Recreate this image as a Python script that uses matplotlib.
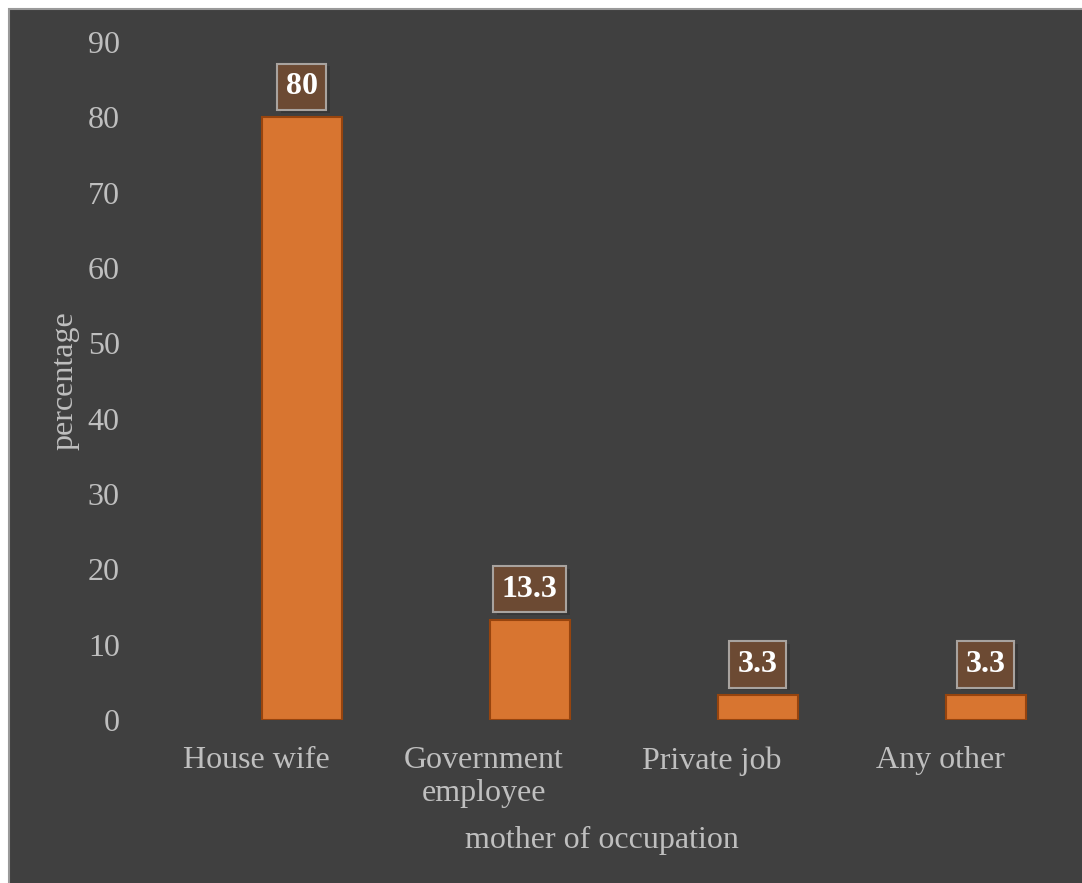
import matplotlib.pyplot as plt
import matplotlib.patheffects as pe
from matplotlib.patches import Rectangle

# Occupazione della madre - percentuali per categoria
categories = ['House wife', 'Government\nemployee', 'Private job', 'Any other']
percentages = [80, 13.3, 3.3, 3.3]
value_labels = ['80', '13.3', '3.3', '3.3']
y_ticks = [0, 10, 20, 30, 40, 50, 60, 70, 80, 90]

BG = '#404040'
TXT = '#BFBFBF'
BAR = '#D87530'
BAR_EDGE = '#97440E'
BOX = '#6C4A33'
BOX_EDGE = '#A8A39F'

plt.rcParams['font.family'] = ['Liberation Serif', 'DejaVu Serif']

W, H = 1082, 883
fig = plt.figure(figsize=(W / 100, H / 100), dpi=100, facecolor='white')

# sfondo scuro con bordo grigio
frame = Rectangle((9 / W, -0.01), 1.0, 1 - 9 / H + 0.01, transform=fig.transFigure,
                  facecolor=BG, edgecolor='#9A9A9A', linewidth=1.5, zorder=-10)
fig.patches.append(frame)

left, right = 142, 1054
ax = fig.add_axes([left / W, (H - 720) / H, (right - left) / W, (720 - 42) / H])
ax.set_facecolor('none')

x = list(range(len(categories)))
bar_x = [xi + 0.2 for xi in x]  # barre spostate a destra nella categoria
ax.bar(bar_x, percentages, width=0.35, color=BAR, edgecolor=BAR_EDGE, linewidth=1.5, zorder=2)

# etichette dei valori sopra le barre
shadow = [pe.SimplePatchShadow(offset=(3, -2), shadow_rgbFace='black', alpha=0.15), pe.Normal()]
for bx, val, lab in zip(bar_x, percentages, value_labels):
    ann = ax.annotate(lab, (bx, val), xytext=(0, 22), textcoords='offset points',
                      ha='center', va='center', color='white', fontsize=23, fontweight='bold',
                      bbox=dict(boxstyle='square,pad=0.27', facecolor=BOX, edgecolor=BOX_EDGE,
                                linewidth=1.5), zorder=3, annotation_clip=False)
    ann.get_bbox_patch().set_path_effects(shadow)

ax.set_xlim(-0.5, 3.5)
ax.set_ylim(0, 90)
ax.set_yticks(y_ticks)
ax.set_xticks(x)
ax.set_xticklabels(categories, linespacing=1.15)

for s in ax.spines.values():
    s.set_visible(False)
ax.tick_params(axis='both', length=0, colors=TXT, labelsize=23)
ax.tick_params(axis='y', pad=16)
ax.tick_params(axis='x', pad=19)

ax.set_xlabel('mother of occupation', color=TXT, fontsize=23)
ax.xaxis.set_label_coords((602 - left) / (right - left), (720 - 840) / (720 - 42))
ax.xaxis.label.set_va('center')
ax.set_ylabel('percentage', color=TXT, fontsize=23)
ax.yaxis.set_label_coords((65 - left) / (right - left), 0.5)
ax.yaxis.label.set_va('center')

plt.savefig('out.png', dpi=100, facecolor=fig.get_facecolor())
